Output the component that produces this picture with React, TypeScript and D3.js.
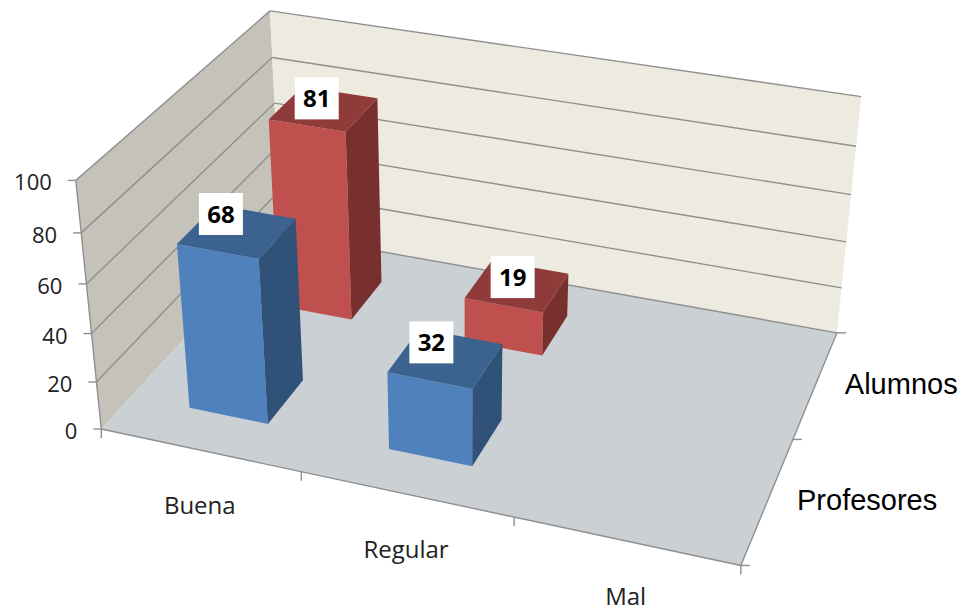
import React from "react";
import * as d3 from "d3";

// Chart values
const categories = ["Buena", "Regular", "Mal"];
const seriesNames = ["Profesores", "Alumnos"];
const profesores: (number | null)[] = [68, 32, null];
const alumnos: (number | null)[] = [81, 19, null];
const valueTicks = [0, 20, 40, 60, 80, 100];

const seriesValues = [profesores, alumnos];
const seriesColors = [
  { front: "#4f81bd", top: "#3c628f", side: "#305278" },
  { front: "#c0504d", top: "#8f3b39", side: "#78302e" },
];
const labelOffsets = [
  [44, -30],
  [48, -21],
];

// Screen positions of the plot box corners, as [u, v, w, x, y]:
// u runs along the categories, v runs into the depth, w runs up the value axis.
const boxCorners = [
  [0, 0, 0, 101, 428],
  [1, 0, 0, 741, 566],
  [1, 1, 0, 837, 332],
  [0, 1, 0, 281, 235],
  [0, 0, 1, 76, 181],
  [0, 1, 1, 270, 10],
  [1, 1, 1, 861, 97],
];

// Least-squares fit of a 3D projective camera to the box corners.
function fitCamera(points: number[][]) {
  const n = 11;
  const A = Array.from({ length: n }, () => new Array(n + 1).fill(0));
  const add = (row: number[], rhs: number) => {
    for (let i = 0; i < n; i++) {
      for (let j = 0; j < n; j++) A[i][j] += row[i] * row[j];
      A[i][n] += row[i] * rhs;
    }
  };
  for (const [u, v, w, x, y] of points) {
    add([u, v, w, 1, 0, 0, 0, 0, -x * u, -x * v, -x * w], x);
    add([0, 0, 0, 0, u, v, w, 1, -y * u, -y * v, -y * w], y);
  }
  // A tiny ridge keeps the under-determined direction stable.
  for (let i = 0; i < n; i++) A[i][i] += 1e-6;
  for (let c = 0; c < n; c++) {
    let pivot = c;
    for (let r = c + 1; r < n; r++) if (Math.abs(A[r][c]) > Math.abs(A[pivot][c])) pivot = r;
    [A[c], A[pivot]] = [A[pivot], A[c]];
    for (let r = 0; r < n; r++) {
      if (r === c) continue;
      const f = A[r][c] / A[c][c];
      for (let k = c; k <= n; k++) A[r][k] -= f * A[c][k];
    }
  }
  return A.map((row, i) => row[n] / row[i]);
}

const cam = fitCamera(boxCorners);
const project = (u: number, v: number, w: number): [number, number] => {
  const d = cam[8] * u + cam[9] * v + cam[10] * w + 1;
  return [
    (cam[0] * u + cam[1] * v + cam[2] * w + cam[3]) / d,
    (cam[4] * u + cam[5] * v + cam[6] * w + cam[7]) / d,
  ];
};

const uBand = d3.scaleBand<string>().domain(categories).range([0, 1]).paddingInner(0.6).paddingOuter(0.3);
const uStep = d3.scaleBand<string>().domain(categories).range([0, 1]);
const vBand = d3.scaleBand<string>().domain(seriesNames).range([0, 1]).paddingInner(0.6).paddingOuter(0.3);
const vStep = d3.scaleBand<string>().domain(seriesNames).range([0, 1]);
const wScale = d3.scaleLinear().domain([0, 100]).range([0, 1]);

const path = d3.line<[number, number]>().curve(d3.curveLinearClosed);
const quad = (pts: [number, number, number][]) =>
  path(pts.map(([u, v, w]) => project(u, v, w))) as string;

const GRID = "#8f8f8f";

function Edge({ a, b }: { a: [number, number, number]; b: [number, number, number] }) {
  const [x1, y1] = project(...a);
  const [x2, y2] = project(...b);
  return <line x1={x1} y1={y1} x2={x2} y2={y2} stroke={GRID} strokeWidth={1.4} />;
}

function Bar({ category, series, value, colors }: {
  category: string; series: string; value: number;
  colors: { front: string; top: string; side: string };
}) {
  const u0 = uBand(category)!;
  const u1 = u0 + uBand.bandwidth();
  const v0 = vBand(series)!;
  const v1 = v0 + vBand.bandwidth();
  const w = wScale(value);
  return (
    <g>
      <path d={quad([[u0, v0, 0], [u1, v0, 0], [u1, v0, w], [u0, v0, w]])} fill={colors.front} />
      <path d={quad([[u1, v0, 0], [u1, v1, 0], [u1, v1, w], [u1, v0, w]])} fill={colors.side} />
      <path d={quad([[u0, v0, w], [u1, v0, w], [u1, v1, w], [u0, v1, w]])} fill={colors.top} />
    </g>
  );
}

function DataLabel({ category, series, value, offset }: {
  category: string; series: string; value: number; offset: number[];
}) {
  const [x, y] = project(uBand(category)!, vBand(series)!, wScale(value));
  const cx = x + offset[0];
  const cy = y + offset[1];
  return (
    <g>
      <rect x={cx - 22} y={cy - 21} width={44} height={42} fill="#ffffff" />
      <text x={cx} y={cy + 9} textAnchor="middle" fontFamily="'Open Sans'" fontWeight={700}
        fontSize={24} fill="#000000">{value}</text>
    </g>
  );
}

export default function App() {
  const seriesOrder = [1, 0];
  return (
    <svg width={964} height={608} viewBox="0 0 964 608"
      style={{ position: "absolute", left: 0, top: 0, background: "#ffffff" }}>
      {/* Walls and floor */}
      <path d={quad([[0, 0, 0], [0, 1, 0], [0, 1, 1], [0, 0, 1]])} fill="#c5c2ba" />
      <path d={quad([[0, 1, 0], [1, 1, 0], [1, 1, 1], [0, 1, 1]])} fill="#edebe0" />
      <path d={quad([[0, 0, 0], [1, 0, 0], [1, 1, 0], [0, 1, 0]])} fill="#cbd0d5" />

      {/* Gridlines */}
      {valueTicks.map((t) => {
        const w = wScale(t);
        return (
          <g key={t}>
            {t > 0 && <Edge a={[0, 0, w]} b={[0, 1, w]} />}
            <Edge a={[0, 1, w]} b={[1, 1, w]} />
          </g>
        );
      })}

      {/* Box edges */}
      <Edge a={[0, 0, 0]} b={[0, 0, 1]} />
      <Edge a={[0, 0, 0]} b={[1, 0, 0]} />
      <Edge a={[1, 0, 0]} b={[1, 1, 0]} />

      {/* Value axis ticks and labels */}
      {valueTicks.map((t) => {
        const [x, y] = project(0, 0, wScale(t));
        return (
          <g key={t}>
            <line x1={x - 8} y1={y} x2={x} y2={y} stroke={GRID} strokeWidth={1.4} />
            <text x={x - 24} y={y + 10} textAnchor="end" fontFamily="'Open Sans'" fontSize={22}
              fill="#222222">{t}</text>
          </g>
        );
      })}

      {/* Category axis ticks and labels */}
      {d3.range(categories.length + 1).map((i) => {
        const [x, y] = project(i / categories.length, 0, 0);
        return <line key={i} x1={x} y1={y} x2={x} y2={y + 9} stroke={GRID} strokeWidth={1.4} />;
      })}
      {categories.map((c) => {
        const [x, y] = project(uStep(c)! + uStep.bandwidth() / 2, 0, 0);
        return (
          <text key={c} x={x} y={y + 64} textAnchor="middle" fontFamily="'Open Sans'" fontSize={24}
            fill="#222222">{c}</text>
        );
      })}

      {/* Depth axis ticks and labels */}
      {d3.range(seriesNames.length + 1).map((i) => {
        const [x, y] = project(1, i / seriesNames.length, 0);
        return <line key={i} x1={x} y1={y} x2={x + 9} y2={y} stroke={GRID} strokeWidth={1.4} />;
      })}
      {seriesNames.map((s) => {
        const [x, y] = project(1, vStep(s)! + vStep.bandwidth() / 2, 0);
        return (
          <text key={s} x={x + 29} y={y + 10} fontFamily="'Liberation Sans'" fontSize={29}
            fill="#000000">{s}</text>
        );
      })}

      {/* Bars, back row first */}
      {seriesOrder.map((si) =>
        categories.map((c, ci) => {
          const value = seriesValues[si][ci];
          return value === null ? null : (
            <Bar key={`${si}-${c}`} category={c} series={seriesNames[si]} value={value}
              colors={seriesColors[si]} />
          );
        })
      )}

      {/* Data labels */}
      {seriesOrder.map((si) =>
        categories.map((c, ci) => {
          const value = seriesValues[si][ci];
          return value === null ? null : (
            <DataLabel key={`${si}-${c}`} category={c} series={seriesNames[si]} value={value}
              offset={labelOffsets[si]} />
          );
        })
      )}
    </svg>
  );
}
